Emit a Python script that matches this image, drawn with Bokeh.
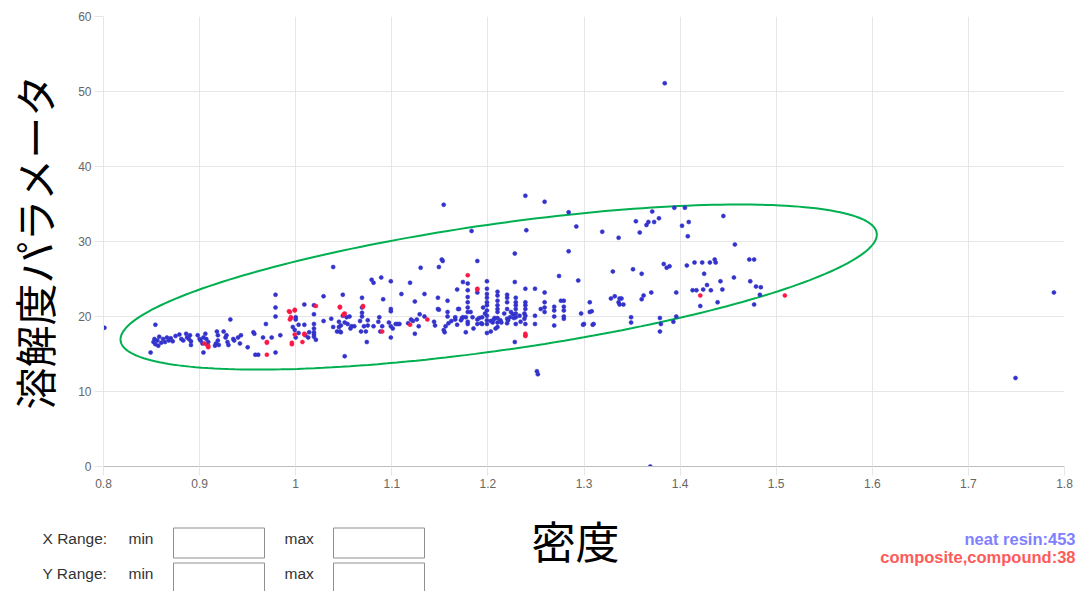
import numpy as np
from bokeh.plotting import figure
from bokeh.layouts import column
from bokeh.models import Range1d, FixedTicker
from bokeh.core.properties import value
from bokeh.embed import file_html
from bokeh.resources import INLINE

# ---- data -------------------------------------------------------------
# neat resin: density [g/cm3] vs solubility parameter
neat_density = [
    0.801, 0.854, 0.849, 0.852, 0.853, 0.854, 0.856, 0.858, 0.860, 0.862, 0.864, 0.866, 0.868, 0.870, 0.872, 0.875, 0.857,
    0.879, 0.881, 0.883, 0.886, 0.887, 0.889, 0.890, 0.891, 0.891, 0.898, 0.900, 0.901, 0.903, 0.904, 0.906, 0.907, 0.909, 0.908, 0.904,
    0.918, 0.919, 0.919, 0.917, 0.916, 0.920, 0.925, 0.927, 0.929, 0.928, 0.930, 0.932, 0.935, 0.936, 0.940, 0.942, 0.943, 0.950, 0.956, 0.957, 0.958, 0.961,
    0.966, 0.969, 0.975, 0.979, 0.979, 0.979, 0.979, 0.984, 0.997, 1.000, 1.000, 1.000, 1.003, 1.009, 1.009, 1.013, 1.014, 0.999, 1.003, 1.010,
    1.019, 1.019, 1.019, 1.019, 1.019, 1.019, 1.019, 1.021, 1.029, 1.029, 1.037, 1.039, 1.039, 1.043, 1.045, 1.046, 1.047, 1.049, 1.051, 1.053, 1.054, 1.057, 1.049, 1.051, 1.056, 1.058, 1.045, 1.047,
    1.061, 1.067, 1.068, 1.069, 1.069, 1.069, 1.069, 1.071, 1.073, 1.074, 1.075, 1.075, 1.079, 1.081, 1.081, 1.086, 1.087, 1.088, 1.089, 1.090, 1.091, 1.097, 1.099, 1.099, 1.099, 1.099, 1.099, 1.101, 1.104, 1.106, 1.108, 1.110,
    1.117, 1.119, 1.120, 1.122, 1.124, 1.124, 1.126, 1.128, 1.129, 1.130, 1.134, 1.134, 1.144, 1.145, 1.148, 1.148, 1.149, 1.149, 1.153, 1.152, 1.154, 1.154, 1.156, 1.158, 1.158, 1.158, 1.159, 1.155,
    1.162, 1.166, 1.166, 1.168, 1.168, 1.169, 1.170, 1.172, 1.173, 1.174, 1.174, 1.177, 1.177, 1.179, 1.179, 1.179, 1.179, 1.179, 1.179, 1.179, 1.179, 1.182, 1.183, 1.184, 1.185, 1.189, 1.189, 1.189, 1.189, 1.191, 1.193, 1.194, 1.194,
    1.195, 1.197, 1.199, 1.199, 1.199, 1.199, 1.199, 1.199, 1.199, 1.199, 1.199, 1.199, 1.199, 1.203, 1.203, 1.205, 1.206, 1.207, 1.208, 1.210, 1.210, 1.210, 1.210, 1.210, 1.210, 1.210, 1.210, 1.210, 1.213, 1.214,
    1.217, 1.220, 1.220, 1.220, 1.220, 1.220, 1.220, 1.221, 1.223, 1.224, 1.226, 1.227, 1.228, 1.228, 1.229, 1.229, 1.229, 1.229, 1.229, 1.229, 1.229, 1.228, 1.233, 1.234, 1.238, 1.238, 1.239, 1.240, 1.239, 1.239, 1.239, 1.239, 1.239, 1.239,
    1.249, 1.249, 1.249, 1.251, 1.252, 1.255, 1.259, 1.259, 1.259, 1.259, 1.259, 1.269, 1.269, 1.269, 1.269, 1.274, 1.276, 1.279, 1.279, 1.279, 1.279, 1.279, 1.284, 1.284, 1.292, 1.294, 1.297, 1.299, 1.300,
    1.306, 1.306, 1.308, 1.309, 1.310, 1.319, 1.328, 1.330, 1.332, 1.336, 1.337, 1.337, 1.339, 1.341, 1.336, 1.349, 1.349, 1.351, 1.354, 1.358, 1.360, 1.360, 1.362,
    1.365, 1.367, 1.369, 1.370, 1.371, 1.373, 1.378, 1.379, 1.379, 1.380, 1.383, 1.384, 1.386, 1.389, 1.393, 1.394, 1.396, 1.396, 1.402, 1.405, 1.407, 1.408, 1.409,
    1.413, 1.415, 1.417, 1.421, 1.423, 1.424, 1.425, 1.428, 1.431, 1.432, 1.436, 1.437, 1.439, 1.442, 1.444, 1.445, 1.456, 1.457, 1.472, 1.477, 1.473, 1.477, 1.479, 1.484, 1.483, 1.749, 1.789,
]
neat_sp = [
    18.5, 18.9, 15.2, 16.6, 17.0, 16.3, 16.8, 17.3, 16.5, 17.0, 16.6, 17.2, 16.8, 17.1, 16.7, 17.4, 16.1,
    17.6, 17.0, 16.8, 17.7, 17.2, 17.0, 17.5, 16.2, 16.7, 17.5, 17.0, 16.8, 16.4, 17.2, 17.7, 17.0, 16.6, 16.2, 15.2,
    18.0, 17.5, 16.8, 16.4, 16.1, 16.2, 18.0, 17.2, 16.6, 17.5, 16.2, 19.6, 17.0, 16.8, 17.2, 16.4, 17.5, 15.9, 17.9, 17.7, 14.9, 14.9,
    17.2, 19.0, 17.2, 22.9, 21.2, 20.0, 15.2, 17.5, 18.6, 19.9, 19.6, 17.2, 18.9, 21.6, 18.9, 17.2, 17.9, 18.2, 17.8, 17.5,
    21.5, 20.3, 19.0, 18.4, 17.9, 17.6, 17.3, 16.9, 22.7, 19.4, 19.7, 18.6, 26.6, 18.0, 18.6, 18.0, 18.8, 22.9, 14.7, 19.9, 19.0, 18.4, 20.1, 19.2, 20.0, 18.7, 19.3, 17.9,
    18.7, 19.4, 18.0, 22.5, 21.2, 20.5, 20.0, 18.7, 18.0, 16.6, 18.8, 19.5, 24.9, 24.5, 18.7, 19.3, 19.9, 18.0, 25.2, 18.7, 22.3, 19.2, 24.7, 21.0, 20.7, 18.7, 17.2, 18.4, 19.0, 19.0, 19.0, 23.0,
    19.1, 24.5, 19.6, 19.4, 22.0, 17.7, 19.6, 18.7, 20.3, 26.5, 20.0, 23.0, 19.3, 18.8, 22.5, 21.0, 26.6, 20.9, 27.4, 27.6, 34.9, 18.2, 18.7, 22.1, 20.6, 20.0, 19.1, 17.9,
    19.4, 19.9, 19.6, 18.9, 23.6, 21.0, 21.0, 19.5, 19.8, 24.6, 19.9, 19.9, 17.9, 24.4, 23.5, 22.6, 21.9, 21.2, 20.6, 19.3, 19.0, 20.6, 31.4, 19.9, 18.4, 27.4, 23.2, 19.6, 19.0, 19.8, 19.1, 19.0, 19.9,
    21.2, 20.4, 24.7, 23.7, 23.0, 22.5, 21.9, 21.5, 20.8, 20.1, 19.5, 19.0, 17.8, 19.4, 18.0, 19.2, 19.6, 19.8, 18.4, 23.3, 22.8, 22.1, 21.5, 21.0, 20.6, 19.8, 19.2, 18.6, 19.5, 19.2,
    20.4, 22.9, 22.5, 21.9, 21.0, 19.7, 19.1, 19.5, 19.9, 20.6, 20.3, 19.8, 28.4, 24.6, 22.5, 21.9, 21.5, 21.0, 20.4, 19.9, 19.0, 16.6, 20.1, 19.3, 19.7, 20.4, 36.1, 31.5, 23.7, 21.9, 21.5, 21.0, 20.1, 19.0,
    23.7, 20.1, 19.0, 12.7, 12.3, 21.0, 35.3, 23.2, 21.9, 21.2, 20.6, 21.3, 20.8, 20.0, 18.8, 25.4, 22.1, 22.1, 21.3, 20.8, 20.0, 19.7, 33.9, 28.7, 32.0, 24.8, 20.4, 18.9, 19.0,
    21.9, 20.6, 20.7, 18.9, 19.0, 31.3, 22.4, 26.0, 22.7, 30.5, 22.4, 21.6, 22.4, 21.6, 21.9, 19.9, 19.2, 26.3, 32.7, 31.2, 25.7, 22.3, 22.8,
    32.2, 32.6, 0.0, 23.2, 34.0, 32.6, 33.1, 19.8, 18.0, 19.0, 27.0, 51.1, 26.5, 26.7, 19.3, 34.5, 20.0, 23.2, 32.1, 34.5, 26.8, 30.7, 32.6,
    23.5, 27.2, 23.5, 21.4, 27.2, 23.6, 25.7, 24.2, 27.2, 23.5, 27.6, 27.2, 21.9, 24.7, 23.6, 33.4, 25.2, 29.6, 27.6, 27.6, 24.7, 21.6, 24.0, 23.9, 22.9, 11.8, 23.2,
]

# composite / compound
comp_density = [
    0.905, 0.909, 0.909, 0.970, 0.970, 0.993, 0.995, 0.994, 0.999, 0.996,
    0.996, 0.999, 1.007, 1.009, 1.021, 1.046, 1.050, 1.051, 1.070, 1.090,
    1.119, 1.137, 1.179, 1.189, 1.239, 1.239, 1.421, 1.509, 0.994, 0.999,
    0.995, 1.009, 1.046, 1.050, 1.070, 0.970, 1.239, 1.189,
]
comp_sp = [
    16.4, 15.9, 16.1, 16.5, 14.9, 20.7, 19.9, 19.6, 20.9, 16.5,
    16.3, 17.6, 16.6, 17.7, 21.4, 21.3, 20.2, 20.4, 21.4, 18.0,
    18.9, 19.6, 25.5, 23.7, 17.5, 17.7, 22.8, 22.8, 20.6, 20.8,
    19.8, 17.6, 21.2, 20.3, 21.3, 16.6, 17.4, 23.6,
]

neat_count = 453
comp_count = len(comp_density)

# fitted distribution ellipse: centre and half-axis vectors (data units)
ell_center = (1.2112, 23.93)
ell_axis_major = (0.3934, 7.19)
ell_axis_minor = (-0.00923, 8.33)

x_ticks = [0.8, 0.9, 1.0, 1.1, 1.2, 1.3, 1.4, 1.5, 1.6, 1.7, 1.8]
x_tick_labels = ["0.8", "0.9", "1", "1.1", "1.2", "1.3", "1.4", "1.5", "1.6", "1.7", "1.8"]
y_ticks = [0, 10, 20, 30, 40, 50, 60]

x_title = "密度"
y_title = "溶解度パラメータ"

# ---- chart ------------------------------------------------------------
TICK_FONT = "Liberation Sans"
JP_FONT = "Noto Sans CJK JP"
GRID = "#e6e6e6"
WIDTH = 1083
CHART_H = 500
PAGE_H = 591

p = figure(width=WIDTH, height=CHART_H, output_backend="svg", toolbar_location=None,
           title=None, x_range=Range1d(0.8, 1.8), y_range=Range1d(0, 60),
           min_border_left=102, min_border_right=19, min_border_top=16,
           min_border_bottom=CHART_H - 466)
p.frame_align = False
p.outline_line_color = None
p.background_fill_color = "white"
p.border_fill_color = "white"

p.xaxis.ticker = FixedTicker(ticks=x_ticks)
p.xaxis.major_label_overrides = dict(zip(x_ticks, x_tick_labels))
p.yaxis.ticker = FixedTicker(ticks=y_ticks)
p.xgrid.ticker = FixedTicker(ticks=x_ticks)
p.ygrid.ticker = FixedTicker(ticks=y_ticks)
p.grid.grid_line_color = GRID

for ax in (p.xaxis[0], p.yaxis[0]):
    ax.major_tick_in = 0
    ax.major_tick_out = 9
    ax.minor_tick_line_color = None
    ax.major_tick_line_color = GRID
    ax.major_label_text_font = TICK_FONT
    ax.major_label_text_font_size = "12px"
    ax.major_label_text_color = "#666666"
    ax.major_label_standoff = 3

p.xaxis.axis_line_color = "#bdbdbd"
p.yaxis.axis_line_color = GRID

p.yaxis.axis_label = y_title
p.yaxis.axis_label_text_font = JP_FONT
p.yaxis.axis_label_text_font_style = "normal"
p.yaxis.axis_label_text_color = "#000000"
p.yaxis.axis_label_text_font_size = "42px"
p.yaxis.axis_label_standoff = 11

# ellipse outline
t = np.linspace(0, 2 * np.pi, 240)
ex = ell_center[0] + ell_axis_major[0] * np.cos(t) + ell_axis_minor[0] * np.sin(t)
ey = ell_center[1] + ell_axis_major[1] * np.cos(t) + ell_axis_minor[1] * np.sin(t)
p.line(ex, ey, line_color="#00b050", line_width=2)

# points
p.scatter(neat_density, neat_sp, size=4, fill_color="#3333cc",
          line_color="#3333cc", line_width=0.6)
p.scatter(comp_density, comp_sp, size=4, fill_color="#ff1744",
          line_color="#ff1744", line_width=0.6)

# ---- strip under the chart: x title, range inputs, counts ---------------
# ranges follow page pixels (y grows downward) so the strip lines up with the chart
f = figure(width=WIDTH, height=PAGE_H - CHART_H, output_backend="svg",
           toolbar_location=None, title=None, x_range=Range1d(0, WIDTH),
           y_range=Range1d(PAGE_H, CHART_H), min_border=0,
           x_axis_type=None, y_axis_type=None)
f.frame_align = False
f.grid.visible = False
f.outline_line_color = None
f.background_fill_color = "white"
f.border_fill_color = "white"

f.text(x=[575], y=[539], text=[x_title], text_font=value(JP_FONT),
       text_font_size="44px", text_color="#000000", text_align="center",
       text_baseline="middle")

f.text(x=[42, 128, 284, 42, 128, 284], y=[538, 538, 538, 573, 573, 573],
       text=["X Range:", "min", "max", "Y Range:", "min", "max"],
       text_font=value(TICK_FONT), text_font_size="15.5px", text_color="#333333",
       text_align="left", text_baseline="middle")

f.quad(left=[173, 333, 173, 333], right=[264, 424, 264, 424],
       top=[527.5, 527.5, 562.5, 562.5], bottom=[557.5, 557.5, 592.5, 592.5],
       fill_color="white", line_color="#8f8f8f", line_width=1)

f.text(x=[1075], y=[538], text=[f"neat resin:{neat_count}"],
       text_font=value(TICK_FONT), text_font_size="16.5px", text_font_style="bold",
       text_color="#8080ff", text_align="right", text_baseline="middle")
f.text(x=[1075], y=[556], text=[f"composite,compound:{comp_count}"],
       text_font=value(TICK_FONT), text_font_size="16.5px", text_font_style="bold",
       text_color="#ff5a5a", text_align="right", text_baseline="middle")

layout = column(p, f, spacing=0)
open("out.html", "w").write(file_html(layout, INLINE))
